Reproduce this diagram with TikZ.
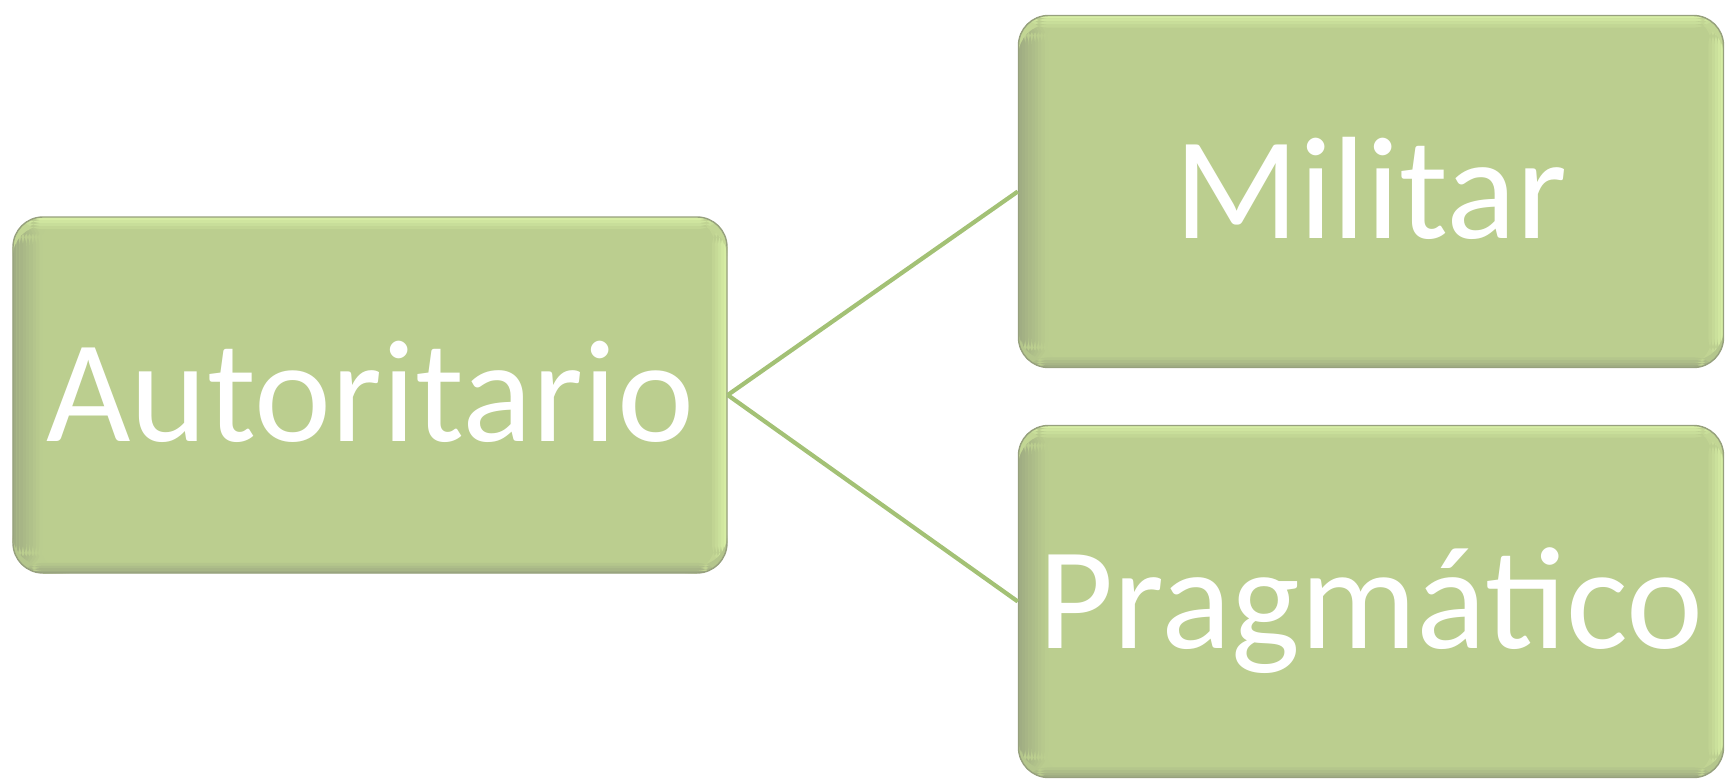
\documentclass[tikz,border=0pt]{standalone}
\usepackage{fontspec}
\setmainfont{Carlito}
\definecolor{boxgreen}{RGB}{187,206,143}
\definecolor{bevdark}{RGB}{160,173,131}
\definecolor{bevedge}{RGB}{150,160,125}
\definecolor{bevlight}{RGB}{214,237,164}
\definecolor{linkgreen}{RGB}{163,193,117}

\begin{document}
\begin{tikzpicture}
[box/.style={rectangle,rounded corners=0.3cm,fill=boxgreen,draw=bevedge,line width=0.4pt,
  minimum width=7.05cm,minimum height=3.52cm,inner sep=0pt,text=white,
  font=\fontsize{41.5}{50}\selectfont,text height=26.7pt,text depth=0pt,
  path picture={
    \foreach \i [evaluate=\i as \p using int(\i*12)] in {0,...,8}
      \fill[boxgreen!\p!bevdark] ([xshift=\i*0.033cm]path picture bounding box.south west) rectangle ([xshift=\i*0.033cm+0.034cm]path picture bounding box.north west);
    \foreach \i [evaluate=\i as \p using int(\i*20)] in {0,...,4}
      \fill[boxgreen!\p!bevlight] ([xshift=-\i*0.03cm]path picture bounding box.south east) rectangle ([xshift=-\i*0.03cm-0.031cm]path picture bounding box.north east);
    \foreach \i [evaluate=\i as \p using int(\i*25)] in {0,...,3}
      \fill[boxgreen!\p!bevlight] ([yshift=-\i*0.03cm]path picture bounding box.north west) rectangle ([yshift=-\i*0.03cm-0.031cm]path picture bounding box.north east);
    \foreach \i [evaluate=\i as \p using int(\i*25)] in {0,...,3}
      \fill[boxgreen!\p!bevdark] ([yshift=\i*0.025cm]path picture bounding box.south west) rectangle ([yshift=\i*0.025cm+0.026cm]path picture bounding box.south east);
  }},
 link/.style={draw=linkgreen,line width=1.2pt}]
\useasboundingbox (0,0) rectangle (17.25,7.78);
\node[box,minimum width=7.14cm,minimum height=3.56cm] (aut) at (3.70,3.83) {Autoritario};
\node[box] (mil) at (13.71,5.865) {Militar};
\node[box] (pra) at (13.71,1.765) {Pragmático};
\path[link] (aut.east) edge (mil.west) edge (pra.west);
\end{tikzpicture}
\end{document}
